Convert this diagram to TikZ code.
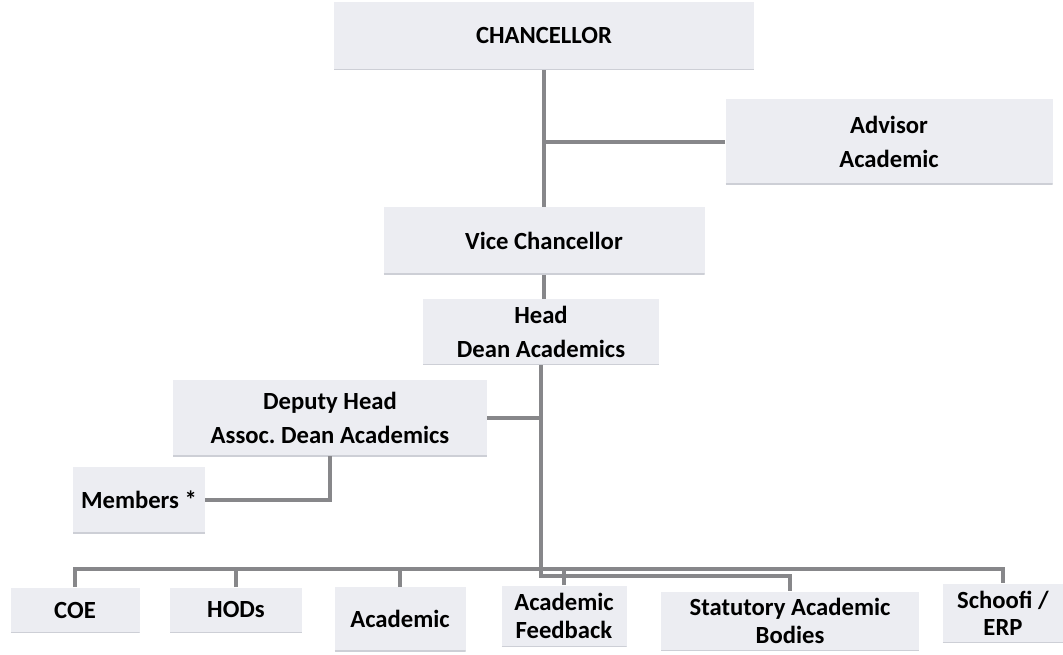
\documentclass[tikz,border=0pt]{standalone}
\usepackage{fontspec}
\setmainfont{Carlito}
\definecolor{boxfill}{RGB}{236,237,242}
\definecolor{boxedge}{RGB}{205,207,214}
\definecolor{wire}{RGB}{135,135,138}
\tikzset{
  unit/.style={fill=boxfill, inner sep=0pt, align=center, font=\fontsize{18.5}{26}\selectfont\bfseries,
    path picture={\draw[boxedge, line width=1.5pt] (path picture bounding box.south west) -- (path picture bounding box.south east);}},
  link/.style={draw=wire, line width=2.4pt}
}
\begin{document}
\begin{tikzpicture}[x=0.75pt, y=-0.75pt]
      \useasboundingbox (0,0) rectangle (1063,655);
      % top of the chart
      \node[unit, minimum width=420*0.75pt, minimum height=68*0.75pt](chan) at(544, 36) {CHANCELLOR};
      \node[unit, minimum width=327*0.75pt, minimum height=85*0.75pt](adv) at(889, 142) {Advisor\\Academic};
      \node[unit, minimum width=321*0.75pt, minimum height=67*0.75pt](vc) at(544, 241) {Vice Chancellor};
      \node[unit, minimum width=236*0.75pt, minimum height=66*0.75pt](head) at(541, 332) {Head\\Dean Academics};
      \node[unit, minimum width=314*0.75pt, minimum height=76*0.75pt](dep) at(330, 418) {Deputy Head\\Assoc.\ Dean Academics};
      \node[unit, minimum width=132*0.75pt, minimum height=66*0.75pt](mem) at(139, 500) {Members *};
      % bottom row
      \foreach \n/\x/\y/\w/\h/\t in {coe/75/610/129/45/COE, hod/236/610/132/45/HODs, acad/400/619/131/64/Academic,
          fb/564/616/125/61/{Academic\\Feedback}, stat/790/621/258/59/{Statutory Academic\\Bodies}, sch/1003/613/121/59/{Schoofi /\\ERP}}{
        \node[unit, font=\fontsize{18.5}{20.5}\selectfont\bfseries, minimum width=\w*0.75pt, minimum height=\h*0.75pt](\n) at(\x, \y) {\t};
      }
      \coordinate(bus) at(0, 569);
      \coordinate(bustwo) at(0, 576);
      \draw[link](chan.south)--(vc.north);
      \draw[link](adv.west)--(adv.west -| chan.south);
      \draw[link](vc.south)--(vc.south |- head.north);
      \draw[link](head.south)|-(stat.north |- bustwo)--(stat.north);
      \draw[link](dep.east)--(dep.east -| head.south);
      \draw[link](dep.south)|-(mem.east);
      \draw[link](coe.north)--(coe.north |- bus)--(sch.north |- bus)--(sch.north);
      \foreach \n in {hod, acad, fb}{
        \draw[link](\n.north)--(\n.north |- bus);
      }
    \end{tikzpicture}
\end{document}
